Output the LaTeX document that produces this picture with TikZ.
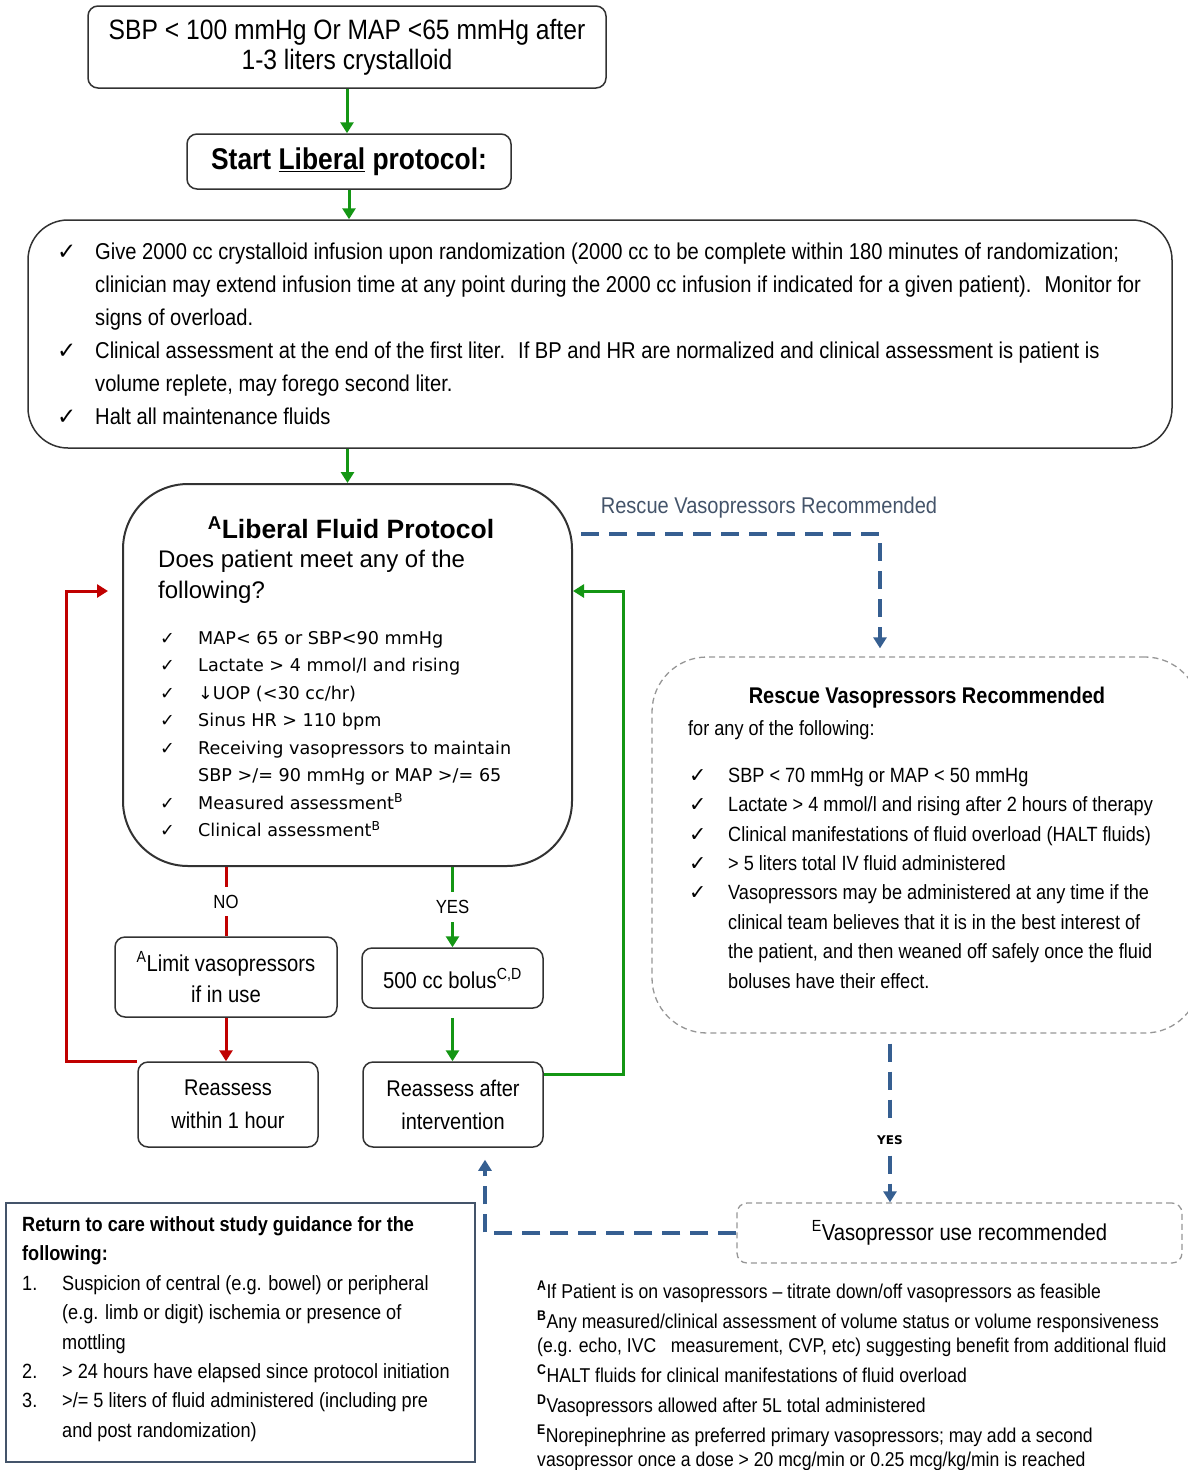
\documentclass[tikz,border=0pt]{standalone}
\usepackage{fontspec}
\setmainfont{Liberation Sans}[FakeStretch=0.88]
\newfontfamily\widefont{Liberation Sans}
\newfontfamily\vfont{DejaVu Sans}
\usetikzlibrary{arrows.meta,positioning}
\definecolor{leaf}{RGB}{20,150,20}
\definecolor{brick}{RGB}{192,0,0}
\definecolor{navy}{RGB}{54,95,145}
\definecolor{slate}{RGB}{68,84,106}
\definecolor{ink}{RGB}{50,50,50}
\definecolor{fog}{RGB}{150,150,150}
\newcommand{\chk}{{\vfont ✓}}
\newcommand{\fs}[2]{\fontsize{#1}{#2}\selectfont}
\tikzset{stepbox/.style={draw=ink,line width=1.5pt,rounded corners=10pt,align=center,inner sep=0pt}}
\tikzset{greybox/.style={draw=fog,line width=1.3pt,dash pattern=on 6pt off 4pt,rounded corners=10pt,align=center,inner sep=0pt}}
\tikzset{textblock/.style={anchor=west,align=left,inner sep=0pt}}
\tikzset{greenarrow/.style={-{Triangle[length=11pt,width=13pt]},line width=3pt,leaf}}
\tikzset{redline/.style={line width=3pt,brick}}
\tikzset{redarrow/.style={redline,-{Triangle[length=11pt,width=13pt]}}}
\tikzset{bluedash/.style={-{Triangle[length=11pt,width=13pt]},line width=4pt,navy,dash pattern=on 18pt off 10pt}}
\tikzset{tag/.style={fill=white,text=black,inner xsep=2pt,inner ysep=8pt,font=\fs{19}{22}}}

\begin{document}
\begin{tikzpicture}[x=1pt,y=-1pt]

	\useasboundingbox (0,0) rectangle (1188,1470);

	\node[stepbox,minimum width=518pt,minimum height=82pt,font=\fs{28}{30}] (top) at (347,47) {SBP < 100 mmHg Or MAP <65 mmHg after\\1-3 liters crystalloid};
	\node[stepbox,minimum width=324pt,minimum height=55pt,font=\bfseries\fs{30}{32}] (start) at (349,161.5) {Start \underline{Liberal} protocol:};
	\node[stepbox,rounded corners=40pt,minimum width=1144pt,minimum height=228pt] (give) at (600,334) {};
	\node[textblock,font=\fs{22.9}{33}] (givetext) at (57,334) {\makebox[38pt][l]{\chk}Give 2000 cc crystalloid infusion upon randomization (2000 cc to be complete within 180 minutes of randomization;\\
		\hspace*{38pt}clinician may extend infusion time at any point during the 2000 cc infusion if indicated for a given patient).~ Monitor for\\
		\hspace*{38pt}signs of overload.\\
		\makebox[38pt][l]{\chk}Clinical assessment at the end of the first liter.~ If BP and HR are normalized and clinical assessment is patient is\\
		\hspace*{38pt}volume replete, may forego second liter.\\
		\makebox[38pt][l]{\chk}Halt all maintenance fluids};

	\node[stepbox,line width=2pt,rounded corners=65pt,minimum width=449pt,minimum height=382pt] (lfp) at (347.5,675) {};
	\node[font=\widefont\bfseries\fs{26.5}{30}] (lfptitle) at (351,528) {\textsuperscript{A}Liberal Fluid Protocol};
	\node[textblock,font=\widefont\fs{24}{31}] (lfpask) at (158,577) {Does patient meet any of the\\following?};
	\node[textblock,font=\vfont\fs{17.6}{27.5}] (lfplist) at (160,734) {\makebox[38pt][l]{✓}MAP< 65 or SBP<90 mmHg\\
		\makebox[38pt][l]{✓}Lactate > 4 mmol/l and rising\\
		\makebox[38pt][l]{✓}↓UOP (<30 cc/hr)\\
		\makebox[38pt][l]{✓}Sinus HR > 110 bpm\\
		\makebox[38pt][l]{✓}Receiving vasopressors to maintain\\
		\hspace*{38pt}SBP >/= 90 mmHg or MAP >/= 65\\
		\makebox[38pt][l]{✓}Measured assessment\textsuperscript{B}\\
		\makebox[38pt][l]{✓}Clinical assessment\textsuperscript{B}};

	\node[font=\fs{22.8}{26},text=slate] (rvlabel) at (769,508) {Rescue Vasopressors Recommended};
	\node[greybox,rounded corners=55pt,minimum width=548pt,minimum height=376pt] (rescue) at (926,845) {};
	\node[font=\bfseries\fs{22.7}{26}] (rescuetitle) at (927,698) {Rescue Vasopressors Recommended};
	\node[textblock,font=\fs{20.6}{24}] (rescueask) at (688,730) {for any of the following:};
	\node[textblock,font=\fs{20.6}{29.4}] (rescuelist) at (689,878) {\makebox[39pt][l]{\chk}SBP < 70 mmHg or MAP < 50 mmHg\\
		\makebox[39pt][l]{\chk}Lactate > 4 mmol/l and rising after 2 hours of therapy\\
		\makebox[39pt][l]{\chk}Clinical manifestations of fluid overload (HALT fluids)\\
		\makebox[39pt][l]{\chk}> 5 liters total IV fluid administered\\
		\makebox[39pt][l]{\chk}Vasopressors may be administered at any time if the\\
		\hspace*{39pt}clinical team believes that it is in the best interest of\\
		\hspace*{39pt}the patient, and then weaned off safely once the fluid\\
		\hspace*{39pt}boluses have their effect.};
	\node[greybox,minimum width=445pt,minimum height=60pt,font=\fs{23}{27}] (vaso) at (959.5,1233) {\textsuperscript{E}Vasopressor use recommended};

	\node[stepbox,minimum width=222pt,minimum height=80pt,font=\fs{23}{31}] (limit) at (226,977) {\textsuperscript{A}Limit vasopressors\\if in use};
	\node[stepbox,minimum width=181pt,minimum height=60pt,font=\fs{23}{27}] (bolus) at (452.5,978) {500 cc bolus\textsuperscript{C,D}};
	\node[stepbox,minimum width=180pt,minimum height=85pt,font=\fs{22.7}{33}] (reassess1) at (228,1104.5) {Reassess\\within 1 hour};
	\node[stepbox,minimum width=180pt,minimum height=85pt,font=\fs{22.7}{33}] (reassess2) at (453,1104.5) {Reassess after\\intervention};

	\node[draw=slate,line width=1.5pt,minimum width=469pt,minimum height=259pt] (ret) at (240.5,1332.5) {};
	\node[textblock,font=\fs{20.6}{29.4}] (rettext) at (22,1329) {\textbf{Return to care without study guidance for the}\\
		\textbf{following:}\\
		\makebox[40pt][l]{1.}Suspicion of central (e.g. bowel) or peripheral\\
		\hspace*{40pt}(e.g. limb or digit) ischemia or presence of\\
		\hspace*{40pt}mottling\\
		\makebox[40pt][l]{2.}> 24 hours have elapsed since protocol initiation\\
		\makebox[40pt][l]{3.}>/= 5 liters of fluid administered (including pre\\
		\hspace*{40pt}and post randomization)};

	\node[textblock,font=\fs{20}{24}] (notes) at (537,1376) {\textsuperscript{\textbf{A}}If Patient is on vasopressors -- titrate down/off vasopressors as feasible\\[6pt]
		\textsuperscript{\textbf{B}}Any measured/clinical assessment of volume status or volume responsiveness\\
		(e.g. echo, IVC~~~measurement, CVP, etc) suggesting benefit from additional fluid\\[6pt]
		\textsuperscript{\textbf{C}}HALT fluids for clinical manifestations of fluid overload\\[6pt]
		\textsuperscript{\textbf{D}}Vasopressors allowed after 5L total administered\\[6pt]
		\textsuperscript{\textbf{E}}Norepinephrine as preferred primary vasopressors; may add a second\\
		vasopressor once a dose > 20 mcg/min or 0.25 mcg/kg/min is reached};

	\coordinate (rvturn) at (880,534);
	\coordinate (vdrop) at (890,1140);
	\coordinate (vret) at (485,1233);
	\coordinate (redloop) at (66,591);
	\coordinate (redtip) at (108,591);
	\coordinate (greenloop) at (623,591);

	\draw[greenarrow] (top.south) -- (top.south |- start.north);
	\draw[greenarrow] (start.south) -- (start.south |- give.north);
	\draw[greenarrow] (lfp.north |- give.south) -- (lfp.north);
	\draw[bluedash,shorten <=8pt,shorten >=8pt] (lfp.east |- rvturn) -- (rvturn) -- (rvturn |- rescue.north);
	\draw[bluedash,shorten <=10pt] (rescue.south -| vdrop) -- node[tag,pos=0.63,font=\vfont\bfseries\fs{12}{14}] (yesv) {YES} (vdrop |- vaso.north);
	\draw[bluedash,shorten >=12pt] (vaso.west) -- (vret) -- (vret |- reassess2.south);
	\draw[redline] (limit.north |- lfp.south) -- node[tag] (no) {NO} (limit.north);
	\draw[redarrow] (limit.south) -- (limit.south |- reassess1.north);
	\draw[redarrow] (reassess1.north west) -| (redloop) -- (redtip);
	\draw[greenarrow] (bolus.north |- lfp.south) -- node[tag] (yes) {YES} (bolus.north);
	\draw[greenarrow,shorten <=9pt] (bolus.south) -- (bolus.south |- reassess2.north);
	\draw[greenarrow] ([yshift=-13pt]reassess2.north east) -| (greenloop) -- (lfp.east |- greenloop);
\end{tikzpicture}
\end{document}
